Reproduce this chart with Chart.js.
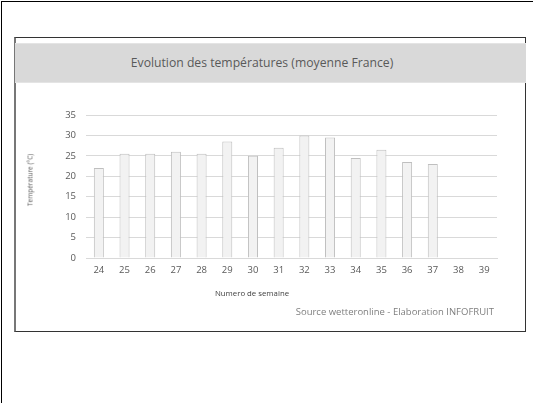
<!DOCTYPE html>
<html>
<head>
<meta charset="utf-8">
<script src="https://cdn.jsdelivr.net/npm/chart.js@4/dist/chart.umd.min.js"></script>
<style>
  html, body { margin: 0; padding: 0; background: #fff; }
  body { width: 533px; height: 403px; position: relative; overflow: hidden; font-family: "Open Sans", sans-serif; }
  #outer { position: absolute; left: 1px; top: 1px; width: 540px; height: 410px; border-left: 1px solid #000; border-top: 1px solid #000; }
  #box { position: absolute; left: 14px; top: 37px; width: 512px; height: 295px; box-sizing: border-box; border: 1px solid #333; border-left: 2px solid #777; }
  #band { position: absolute; left: 15px; top: 43px; width: 511px; height: 40px; padding-right: 17px; background: #d9d9d9; border-top: 1px solid #e4e4e4; border-bottom: 1px solid #e4e4e4; box-sizing: border-box; text-align: center; line-height: 38px; color: #595959; font-size: 12.2px; }
  #source { position: absolute; right: 39px; top: 305px; color: #7f7f7f; font-size: 9.5px; }
  #xtitle { position: absolute; left: 252px; top: 293px; transform: translate(-50%, -50%); color: #404040; font-size: 7.8px; white-space: nowrap; }
  #ytitle { position: absolute; left: 30px; top: 180px; transform: translate(-50%, -50%) rotate(-90deg); color: #595959; font-size: 6.5px; white-space: nowrap; }
  #chart { position: absolute; left: 0; top: 0; }
</style>
</head>
<body>
<div id="outer"></div>
<div id="box"></div>
<div id="band">Evolution des températures (moyenne France)</div>
<canvas id="chart" width="533" height="403"></canvas>
<div id="ytitle">Température (°C)</div>
<div id="xtitle">Numero de semaine</div>
<div id="source">Source wetteronline - Elaboration INFOFRUIT</div>
<script>
// Week numbers
const weeks = ['24', '25', '26', '27', '28', '29', '30', '31', '32', '33', '34', '35', '36', '37', '38', '39'];
// Average temperature per week (no data yet for 38 and 39)
const temperatures = [22, 25.5, 25.5, 26, 25.5, 28.5, 25, 27, 30, 29.5, 24.5, 26.5, 23.5, 23, null, null];
// Y axis range
const yMin = 0;
const yMax = 35;
const yStep = 5;

const tickColor = '#595959';
const gridColor = '#d9d9d9';

const ctx = document.getElementById('chart');
new Chart(ctx, {
    type: 'bar',
    data: {
        labels: weeks,
        datasets: [{
            label: 'Température',
            data: temperatures,
            backgroundColor: '#f2f2f2',
            borderColor: '#bfbfbf',
            borderWidth: 1,
            barPercentage: 0.39,
            categoryPercentage: 1
        }]
    },
    options: {
        responsive: false,
        animation: false,
        layout: {
            padding: { left: 20, right: 36, top: 115, bottom: 94 }
        },
        plugins: {
            legend: { display: false },
            tooltip: { enabled: false }
        },
        scales: {
            x: {
                grid: { display: false, drawTicks: false },
                border: { display: true, color: gridColor },
                ticks: { color: tickColor, font: { family: 'Open Sans', size: 9.5 }, padding: 7, maxRotation: 0 },
                afterFit: function (scale) { scale.height = 51; }
            },
            y: {
                min: yMin,
                max: yMax,
                ticks: { stepSize: yStep, color: tickColor, font: { family: 'Open Sans', size: 9.5 }, padding: 10 },
                grid: { color: gridColor, drawTicks: false },
                border: { display: false },
                afterFit: function (scale) { scale.width = 66; }
            }
        }
    }
});
</script>
</body>
</html>
